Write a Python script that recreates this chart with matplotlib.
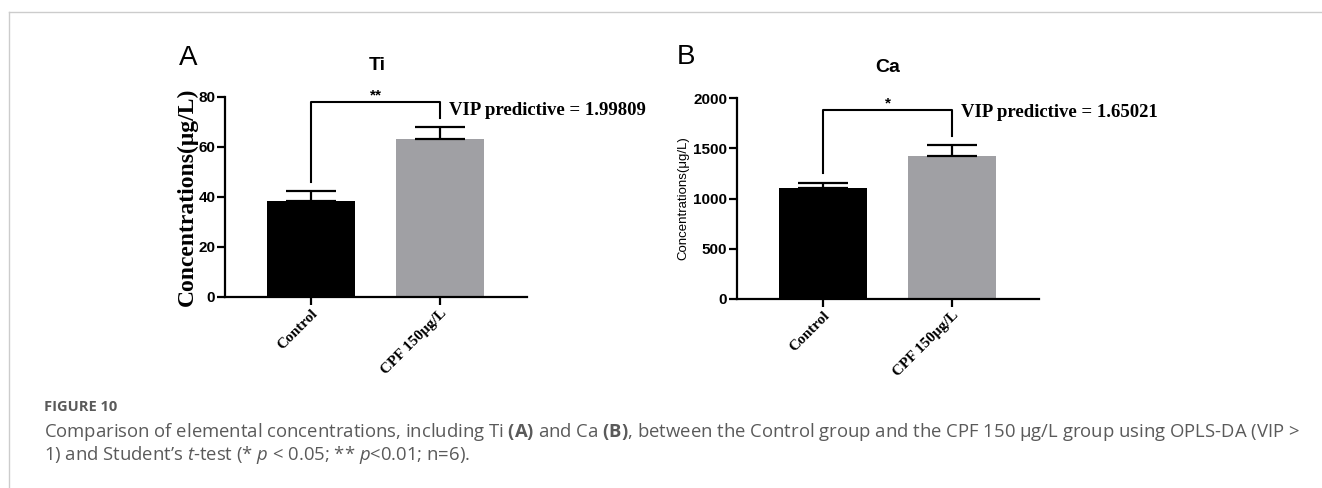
import matplotlib.pyplot as plt
from matplotlib.lines import Line2D

# group labels and measured concentrations (mean, SEM)
groups = ["Control", "CPF 150μg/L"]
ti_mean = [38.4, 63.2]
ti_err = [4.0, 4.8]
ca_mean = [1100, 1420]
ca_err = [55, 110]
vip_ti = "1.99809"
vip_ca = "1.65021"

W, H = 1322, 488
fig = plt.figure(figsize=(W / 100, H / 100), dpi=100)

plt.rcParams['mathtext.fontset'] = 'custom'
plt.rcParams['mathtext.rm'] = 'Open Sans'
plt.rcParams['mathtext.it'] = 'Open Sans:italic'
plt.rcParams['mathtext.bf'] = 'Open Sans:bold'

bar_colors = ["black", "#a0a0a4"]
SANS = "Liberation Sans"
SERIF = "Liberation Serif"


def px(x, y):
    return x / W, 1 - y / H


def panel(rect, means, errs, ymax, ystep, title, letter, letter_xy, title_xy,
          ylabel_kw, bracket, star, vip, vip_y):
    ax = fig.add_axes(rect)
    x = [0, 1]
    ax.bar(x, means, width=0.68, color=bar_colors, zorder=2)
    ax.errorbar(x, means, yerr=[[0, 0], errs], fmt="none", ecolor="black",
                elinewidth=1.6, capsize=18, capthick=1.6, zorder=3)
    ax.set_xlim(-0.666, 1.672)
    ax.set_ylim(0, ymax)
    ax.set_yticks(range(0, ymax + 1, ystep))
    ax.set_xticks(x)
    ax.set_xticklabels(groups, rotation=45, ha="right", va="top",
                       rotation_mode="anchor", fontfamily=SERIF,
                       fontweight="bold", fontsize=11)
    for lab in ax.get_yticklabels():
        lab.set_fontfamily(SANS)
        lab.set_fontweight("bold")
        lab.set_fontsize(11)
    for s in ["top", "right"]:
        ax.spines[s].set_visible(False)
    for s in ["left", "bottom"]:
        ax.spines[s].set_linewidth(1.6)
    ax.tick_params(axis="both", width=1.6, length=6, pad=1)
    ax.set_ylabel("Concentrations(μg/L)", **ylabel_kw)

    # significance bracket
    top, lbot, rbot = bracket
    ax.add_line(Line2D([0, 0, 1, 1], [lbot, top, top, rbot], color="black",
                       lw=1.5, clip_on=False))
    ax.text(0.5, top, star, ha="center", va="bottom", fontsize=11,
            fontfamily=SANS, fontweight="bold")
    ax.text(1.07, vip_y, "VIP predictive = " + vip,
            ha="left", va="center", fontsize=13.5, fontfamily=SERIF,
            fontweight="bold", clip_on=False)

    fig.text(*px(*title_xy), title, ha="center", va="center", fontsize=14,
             fontfamily=SANS, fontweight="bold")
    fig.text(*px(*letter_xy), letter, ha="left", va="center", fontsize=20,
             fontfamily=SANS)
    return ax


panel([225 / W, 1 - 297 / H, 302 / W, 200 / H], ti_mean, ti_err, 80, 20,
      "Ti", "A", (179, 58), (377, 66),
      dict(fontfamily=SERIF, fontweight="bold", fontsize=17, labelpad=0),
      (78, 46, 71.6), "**", vip_ti, 74.5)

panel([737 / W, 1 - 299 / H, 302 / W, 201 / H], ca_mean, ca_err, 2000, 500,
      "Ca", "B", (677, 57), (888, 67),
      dict(fontfamily=SANS, fontsize=9.5, labelpad=3),
      (1880, 1250, 1620), "*", vip_ca, 1860)

# frame lines at top and left
fig.add_artist(Line2D([9 / W, 9 / W], [0, 1 - 12 / H], transform=fig.transFigure,
                      color="#cccccc", lw=1))
fig.add_artist(Line2D([9 / W, 1], [1 - 12 / H, 1 - 12 / H],
                      transform=fig.transFigure, color="#cccccc", lw=1))

cap_color = "#5a5a5a"
fig.text(*px(44, 407), "FIGURE 10", ha="left", va="center", fontsize=10.5,
         fontfamily="Open Sans", fontweight="bold", color=cap_color)
line1 = ("Comparison of elemental concentrations, including Ti $\\mathbf{(A)}$ "
         "and Ca $\\mathbf{(B)}$, between the Control group and the CPF 150 μg/L "
         "group using OPLS-DA (VIP >")
line2 = ("1) and Student’s $\\mathit{t}$-test (* $\\mathit{p}$ < 0.05; ** "
         "$\\mathit{p}$<0.01; n=6).")
fig.text(*px(44, 432), line1, ha="left", va="center", fontsize=13.3,
         fontfamily="Open Sans", color=cap_color)
fig.text(*px(44, 455), line2, ha="left", va="center", fontsize=13.3,
         fontfamily="Open Sans", color=cap_color)

fig.savefig("out.png", dpi=100)
